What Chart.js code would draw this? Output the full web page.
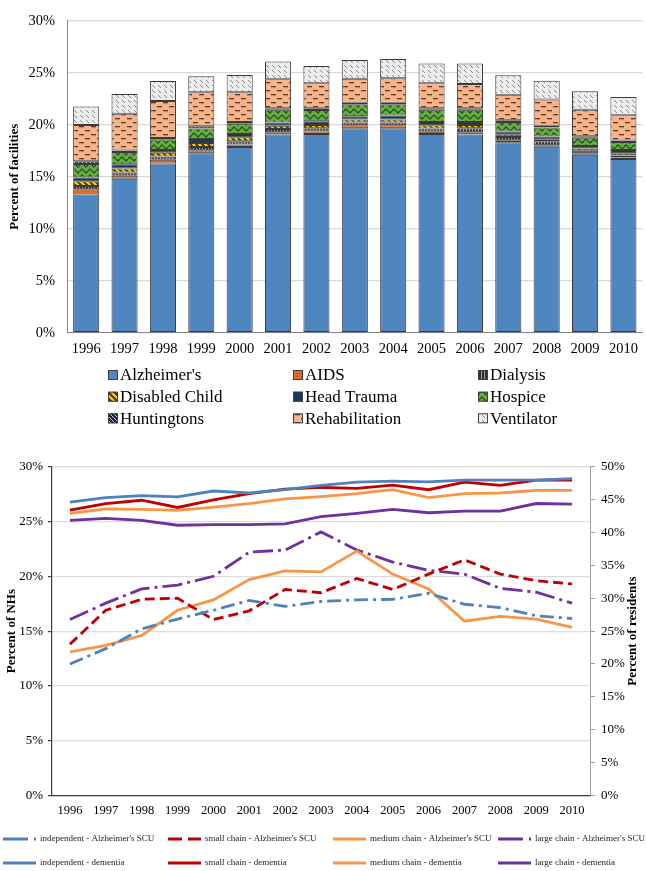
<!DOCTYPE html>
<html><head><meta charset="utf-8">
<script src="https://cdn.jsdelivr.net/npm/chart.js@4/dist/chart.umd.min.js"></script>
<style>
html,body{margin:0;padding:0;background:#fff;width:646px;height:871px;overflow:hidden}
#w1{position:absolute;left:0;top:0;width:646px;height:440px}
#w2{position:absolute;left:0;top:440px;width:646px;height:431px}
canvas{display:block}
</style></head><body>
<div id="w1"><canvas id="c1" width="646" height="440" style="width:646px;height:440px"></canvas></div>
<div id="w2"><canvas id="c2" width="646" height="431" style="width:646px;height:431px"></canvas></div>
<script>
// ---------- data: top chart (percent of facilities) ----------
const years = ['1996','1997','1998','1999','2000','2001','2002','2003','2004','2005','2006','2007','2008','2009','2010'];
const alzheimers     = [13.3,14.8,16.27,17.25,17.85,19.05,19.1,19.67,19.67,19.1,19.05,18.31,17.88,17.1,16.7];
const aids           = [0.5,0.3,0.37,0.3,0.25,0.22,0.25,0.28,0.28,0.22,0.22,0.19,0.15,0.15,0.15];
const dialysis       = [0.3,0.3,0.3,0.3,0.3,0.31,0.31,0.25,0.25,0.31,0.4,0.31,0.37,0.25,0.19];
const disabledChild  = [0.46,0.4,0.37,0.4,0.4,0.31,0.31,0.31,0.31,0.31,0.31,0.22,0.19,0.22,0.22];
const headTrauma     = [0.37,0.4,0.25,0.37,0.31,0.31,0.37,0.31,0.37,0.31,0.28,0.31,0.28,0.22,0.31];
const hospice        = [1.3,1.18,1.05,1.02,0.99,1.24,1.08,1.14,1.08,1.18,1.18,0.93,0.87,0.8,0.77];
const huntingtons    = [0.25,0.15,0.12,0.22,0.15,0.15,0.15,0.15,0.15,0.15,0.15,0.15,0.15,0.15,0.15];
const rehabilitation = [3.5,3.53,3.56,3.25,2.88,2.78,2.41,2.32,2.35,2.41,2.32,2.47,2.54,2.54,2.41];
const ventilator     = [1.76,1.89,1.92,1.55,1.64,1.7,1.67,1.79,1.86,1.89,1.98,1.86,1.79,1.79,1.76];
const facilityTicksMax = 30;

// ---------- data: bottom chart ----------
// Alzheimer's SCU (percent of NHs, left axis)
const indepSCU  = [12.0,13.4,15.2,16.1,16.9,17.8,17.25,17.7,17.85,17.9,18.45,17.45,17.15,16.4,16.15];
const smallSCU  = [13.8,16.9,17.9,18.0,16.05,16.85,18.8,18.5,19.8,18.8,20.2,21.5,20.2,19.6,19.3];
const mediumSCU = [13.1,13.7,14.6,16.9,17.85,19.7,20.5,20.4,22.3,20.2,18.85,15.9,16.35,16.1,15.35];
const largeSCU  = [16.05,17.55,18.85,19.2,20.0,22.2,22.4,24.05,22.4,21.3,20.55,20.2,18.9,18.55,17.55];
// dementia (percent of residents, right axis)
const indepDem  = [44.6,45.3,45.6,45.4,46.3,46.0,46.5,47.15,47.65,47.8,47.7,47.95,47.95,47.95,48.2];
const smallDem  = [43.4,44.4,44.9,43.8,44.95,45.9,46.6,46.85,46.7,47.2,46.5,47.65,47.15,47.95,47.95];
const mediumDem = [42.9,43.6,43.5,43.35,43.85,44.4,45.1,45.45,45.9,46.5,45.3,45.9,46.0,46.4,46.4];
const largeDem  = [41.85,42.15,41.85,41.1,41.2,41.2,41.3,42.4,42.9,43.5,43.0,43.25,43.25,44.4,44.3];

const SERIF = '"Liberation Serif","Times New Roman",serif';

// ---------- patterns ----------
const ctx1 = document.getElementById('c1').getContext('2d');
function pat(w,h,draw){
  const c=document.createElement('canvas'); c.width=w; c.height=h;
  const g=c.getContext('2d'); draw(g,w,h);
  return ctx1.createPattern(c,'repeat');
}
function pix(g,w,h,bg,fg,test){
  g.fillStyle=bg; g.fillRect(0,0,w,h); g.fillStyle=fg;
  for(let y=0;y<h;y++)for(let x=0;x<w;x++) if(test(x,y)) g.fillRect(x,y,1,1);
}
const P = {
  alz: '#4f86c0',
  aids: pat(4,3,(g,w,h)=>pix(g,w,h,'#e2692a','#9a3c0e',(x,y)=>x===1&&y===1)),
  dial: pat(3,1,(g,w,h)=>pix(g,w,h,'#2e2e2e','#a0a0a0',(x,y)=>x===1)),
  dis:  pat(6,6,(g,w,h)=>pix(g,w,h,'#4d4312','#f2c51c',(x,y)=>((x-y+12)%6)<3)),
  head: '#17375e',
  hosp: pat(8,6,(g,w,h)=>{g.fillStyle='#6aab45';g.fillRect(0,0,w,h);g.strokeStyle='#1f5c14';g.lineWidth=1.3;
          g.beginPath();g.moveTo(0,3);g.lineTo(2,1);g.lineTo(4,3);g.lineTo(6,5);g.lineTo(8,3);g.stroke();}),
  hunt: pat(4,4,(g,w,h)=>pix(g,w,h,'#15233d','#c9d3e6',(x,y)=>((x-y+8)%4)===0)),
  rehab: pat(12,8,(g,w,h)=>{g.fillStyle='#f7b48a';g.fillRect(0,0,w,h);g.fillStyle='#5b3b27';
          g.fillRect(1,2,5,1.3);g.fillRect(7,6,5,1.3);}),
  vent: pat(6,5,(g,w,h)=>pix(g,w,h,'#ececec','#8a8a8a',(x,y)=>((x-y+10)%6)===0 && y<3))
};

// ---------- legend plugins ----------
const boxLegend = {
  id:'boxLegend',
  afterDraw(chart,args,o){
    const ctx=chart.ctx;
    chart.data.datasets.forEach((ds,i)=>{
      const x=o.cols[i%3], y=o.rows[Math.floor(i/3)];
      ctx.save();
      ctx.fillStyle=ds.backgroundColor; ctx.fillRect(x,y-o.box/2,o.box,o.box);
      ctx.strokeStyle='#404040'; ctx.lineWidth=1; ctx.strokeRect(x+0.5,y-o.box/2+0.5,o.box-1,o.box-1);
      ctx.fillStyle='#000'; ctx.font=o.font; ctx.textBaseline='middle'; ctx.textAlign='left';
      ctx.fillText(ds.label,x+o.box+2,y+1);
      ctx.restore();
    });
  }
};
const lineLegend = {
  id:'lineLegend',
  afterDraw(chart,args,o){
    const ctx=chart.ctx;
    chart.data.datasets.forEach((ds,i)=>{
      const x=o.cols[i%4], y=o.rows[Math.floor(i/4)];
      ctx.save();
      ctx.strokeStyle=ds.borderColor; ctx.lineWidth=3; ctx.lineCap='butt';
      ctx.setLineDash(ds.legendDash||[]);
      ctx.beginPath(); ctx.moveTo(x,y); ctx.lineTo(x+o.len,y); ctx.stroke();
      ctx.setLineDash([]);
      ctx.fillStyle='#222'; ctx.font=o.font; ctx.textBaseline='middle'; ctx.textAlign='left';
      ctx.fillText(ds.label,x+o.textOff,y);
      ctx.restore();
    });
  }
};
const rightTitle = {
  id:'rightTitle',
  afterDraw(chart,args,o){
    const ctx=chart.ctx, a=chart.chartArea;
    ctx.save(); ctx.translate(o.x,(a.top+a.bottom)/2); ctx.rotate(-Math.PI/2);
    ctx.font=o.font; ctx.fillStyle='#000'; ctx.textAlign='center'; ctx.textBaseline='middle';
    ctx.fillText(o.text,0,0); ctx.restore();
  }
};

// ---------- top chart ----------
function barDs(label,data,bg){
  return {label,data,backgroundColor:bg,borderColor:'#3a3a3a',borderWidth:1,borderSkipped:false,
          barPercentage:0.68,categoryPercentage:1};
}
new Chart(ctx1,{
  type:'bar',
  data:{labels:years,datasets:[
    barDs("Alzheimer's",alzheimers,P.alz),
    barDs('AIDS',aids,P.aids),
    barDs('Dialysis',dialysis,P.dial),
    barDs('Disabled Child',disabledChild,P.dis),
    barDs('Head Trauma',headTrauma,P.head),
    barDs('Hospice',hospice,P.hosp),
    barDs('Huntingtons',huntingtons,P.hunt),
    barDs('Rehabilitation',rehabilitation,P.rehab),
    barDs('Ventilator',ventilator,P.vent)
  ]},
  options:{
    responsive:false, animation:false, devicePixelRatio:1,
    layout:{padding:{left:0,right:2,top:9.3,bottom:77.3}},
    plugins:{legend:{display:false},tooltip:{enabled:false},
      boxLegend:{cols:[108,293,478],rows:[375,396.7,418.3],box:10,font:'17px '+SERIF}},
    scales:{
      x:{stacked:true,grid:{display:false,drawTicks:false},border:{display:true,color:'#868686',width:1},
         ticks:{font:{family:SERIF,size:14.5},color:'#000',padding:8},
         afterFit(s){s.height=30;}},
      y:{stacked:true,min:0,max:facilityTicksMax,
         ticks:{stepSize:5,callback:v=>v+'%',font:{family:SERIF,size:14.5},color:'#000',padding:12},
         grid:{color:'#d9d9d9',drawTicks:false,lineWidth:1.2},border:{display:true,color:'#868686',width:1},
         title:{display:true,text:'Percent of facilities',font:{family:SERIF,size:13,weight:'bold'},color:'#000',padding:{top:7,bottom:0}},
         afterFit(s){s.width=67;}}
    }
  },
  plugins:[boxLegend]
});

// ---------- bottom chart ----------
function lineDs(label,data,color,axis,dash,legendDash){
  return {label,data,borderColor:color,backgroundColor:color,borderWidth:2.8,borderDash:dash,legendDash,
          pointRadius:0,tension:0,fill:false,yAxisID:axis};
}
const BLUE='#4f81bd', RED='#c00000', ORANGE='#f79646', PURPLE='#7030a0';
new Chart(document.getElementById('c2').getContext('2d'),{
  type:'line',
  data:{labels:years,datasets:[
    lineDs("independent - Alzheimer's SCU",indepSCU,BLUE,'y',[14,5,3,5],[25,6,2,100]),
    lineDs("small chain - Alzheimer's SCU",smallSCU,RED,'y',[10,5],[14,6]),
    lineDs("medium chain - Alzheimer's SCU",mediumSCU,ORANGE,'y',[],[]),
    lineDs("large chain - Alzheimer's SCU",largeSCU,PURPLE,'y',[20,5,3,5],[25,6,2,100]),
    lineDs('independent - dementia',indepDem,BLUE,'y1',[],[]),
    lineDs('small chain - dementia',smallDem,RED,'y1',[],[]),
    lineDs('medium chain - dementia',mediumDem,ORANGE,'y1',[],[]),
    lineDs('large chain - dementia',largeDem,PURPLE,'y1',[],[])
  ]},
  options:{
    responsive:false, animation:false, devicePixelRatio:1,
    layout:{padding:{left:0,right:0,top:26.7,bottom:50.5}},
    plugins:{legend:{display:false},tooltip:{enabled:false},
      lineLegend:{cols:[3,168,333,498],rows:[399,423],len:33,textOff:37,font:'9px '+SERIF},
      rightTitle:{x:633,text:'Percent of residents',font:'bold 13px '+SERIF}},
    scales:{
      x:{offset:true,grid:{display:false,drawTicks:false},border:{display:true,color:'#404040',width:1.2},
         ticks:{font:{family:SERIF,size:12.5},color:'#000',padding:8},
         afterFit(s){s.height=25;}},
      y:{position:'left',min:0,max:30,
         ticks:{stepSize:5,callback:v=>v+'%',font:{family:SERIF,size:13},color:'#000',padding:5},
         grid:{color:'#dddddd',tickColor:'#404040',tickLength:4,lineWidth:1.2},
         border:{display:true,color:'#404040',width:1.2},
         title:{display:true,text:'Percent of NHs',font:{family:SERIF,size:13,weight:'bold'},color:'#000',padding:{top:4,bottom:0}},
         afterFit(s){s.width=52;}},
      y1:{position:'right',min:0,max:50,
         ticks:{stepSize:5,callback:v=>v+'%',font:{family:SERIF,size:13},color:'#000',padding:6},
         grid:{drawOnChartArea:false,tickColor:'#a0a0a0',tickLength:5},
         border:{display:true,color:'#a0a0a0',width:1},
         afterFit(s){s.width=56;}}
    }
  },
  plugins:[lineLegend,rightTitle]
});
</script>
</body></html>
